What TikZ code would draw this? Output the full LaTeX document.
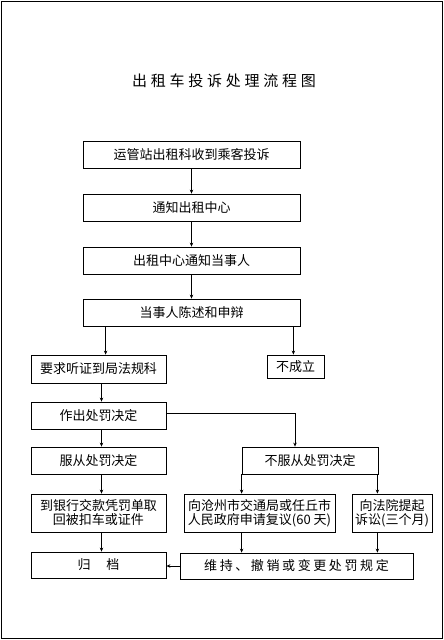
\documentclass[tikz,border=0pt]{standalone}
\usepackage{fontspec}
\newfontfamily\cjk{Noto Sans CJK SC}
\newfontfamily\cjkwide[LetterSpace=20]{Noto Sans CJK SC}
\newfontfamily\cjktitle[LetterSpace=25]{Noto Sans CJK SC}
\usetikzlibrary{arrows.meta}
\tikzset{
  frame/.style={draw=black, line width=0.9pt},
  stepbox/.style={draw=black, line width=0.8pt, inner sep=1pt, align=center, font=\cjk\fontsize{13}{14}\selectfont},
  widebox/.style={stepbox, font=\cjkwide\fontsize{13}{14}\selectfont},
  flow/.style={-{Stealth[length=4pt,width=3.5pt]}, line width=0.7pt},
  title/.style={font=\cjktitle\fontsize{15}{18}\selectfont}
}

\begin{document}
\begin{tikzpicture}[x=1pt,y=-1pt]
  \useasboundingbox (0,0) rectangle (444,640);
  \draw[frame] (1,1) rectangle (442,638);
  \node[title] (head) at (224,81) {出租车投诉处理流程图};
  \node[stepbox, minimum width=217pt, minimum height=27pt] (complaint) at (191.5,154.5) {运管站出租科收到乘客投诉};
  \node[stepbox, minimum width=217pt, minimum height=27pt] (notice) at (191.5,207.5) {通知出租中心};
  \node[stepbox, minimum width=217pt, minimum height=27pt] (inform) at (191.5,260.5) {出租中心通知当事人};
  \node[stepbox, minimum width=217pt, minimum height=27pt] (defend) at (191.5,312.5) {当事人陈述和申辩};
  \node[stepbox, minimum width=135pt, minimum height=28pt] (hearing) at (98.5,369) {要求听证到局法规科};
  \node[stepbox, minimum width=57pt, minimum height=23pt] (invalid) at (295.5,366.5) {不成立};
  \node[stepbox, minimum width=135pt, minimum height=27pt] (decide) at (98.5,415.5) {作出处罚决定};
  \node[stepbox, minimum width=135pt, minimum height=27pt] (accept) at (98.5,460.5) {服从处罚决定};
  \node[stepbox, minimum width=136pt, minimum height=27pt] (reject) at (310,460.5) {不服从处罚决定};
  \node[stepbox, minimum width=135pt, minimum height=38pt] (payfine) at (98.5,513) {到银行交款凭罚单取\\回被扣车或证件};
  \node[stepbox, minimum width=151pt, minimum height=38pt] (review) at (259.5,513) {向沧州市交通局或任丘市\\人民政府申请复议(60 天)};
  \node[stepbox, minimum width=80pt, minimum height=38pt] (lawsuit) at (392,513) {向法院提起\\诉讼(三个月)};
  \node[stepbox, minimum width=135pt, minimum height=26pt] (archive) at (98.5,565) {归\hspace{16pt}档};
  \node[widebox, minimum width=233pt, minimum height=26pt] (ruling) at (296.5,566) {维持、撤销或变更处罚规定};

  \draw[flow] (complaint) -- (notice);
  \draw[flow] (notice) -- (inform);
  \draw[flow] (inform) -- (defend);
  \draw[flow] ([xshift=23pt]defend.south west) coordinate (d1) -- (d1 |- hearing.north);
  \draw[flow] ([xshift=-7pt]defend.south east) coordinate (d2) -- (d2 |- invalid.north);
  \draw[flow] ([xshift=3pt]hearing.south) coordinate (h1) -- (h1 |- decide.north);
  \draw[flow] ([xshift=3pt]decide.south) coordinate (c1) -- (c1 |- accept.north);
  \draw[flow] ([yshift=2pt]decide.east) -| ([xshift=-15pt]reject.north);
  \draw[flow] ([xshift=3pt]accept.south) coordinate (a1) -- (a1 |- payfine.north);
  \draw[flow] ([xshift=3pt]payfine.south) coordinate (p1) -- (p1 |- archive.north);
  \draw[flow] (reject.south west) -- (reject.south west |- review.north);
  \draw[flow] ([xshift=-1pt]reject.south east) coordinate (r1) -- (r1 |- lawsuit.north);
  \draw[flow] (reject.south west |- review.south) -- (reject.south west |- ruling.north);
  \draw[flow] (r1 |- lawsuit.south) -- (r1 |- ruling.north);
  \draw[flow] (ruling.west) -- (ruling.west -| archive.east);
\end{tikzpicture}
\end{document}
